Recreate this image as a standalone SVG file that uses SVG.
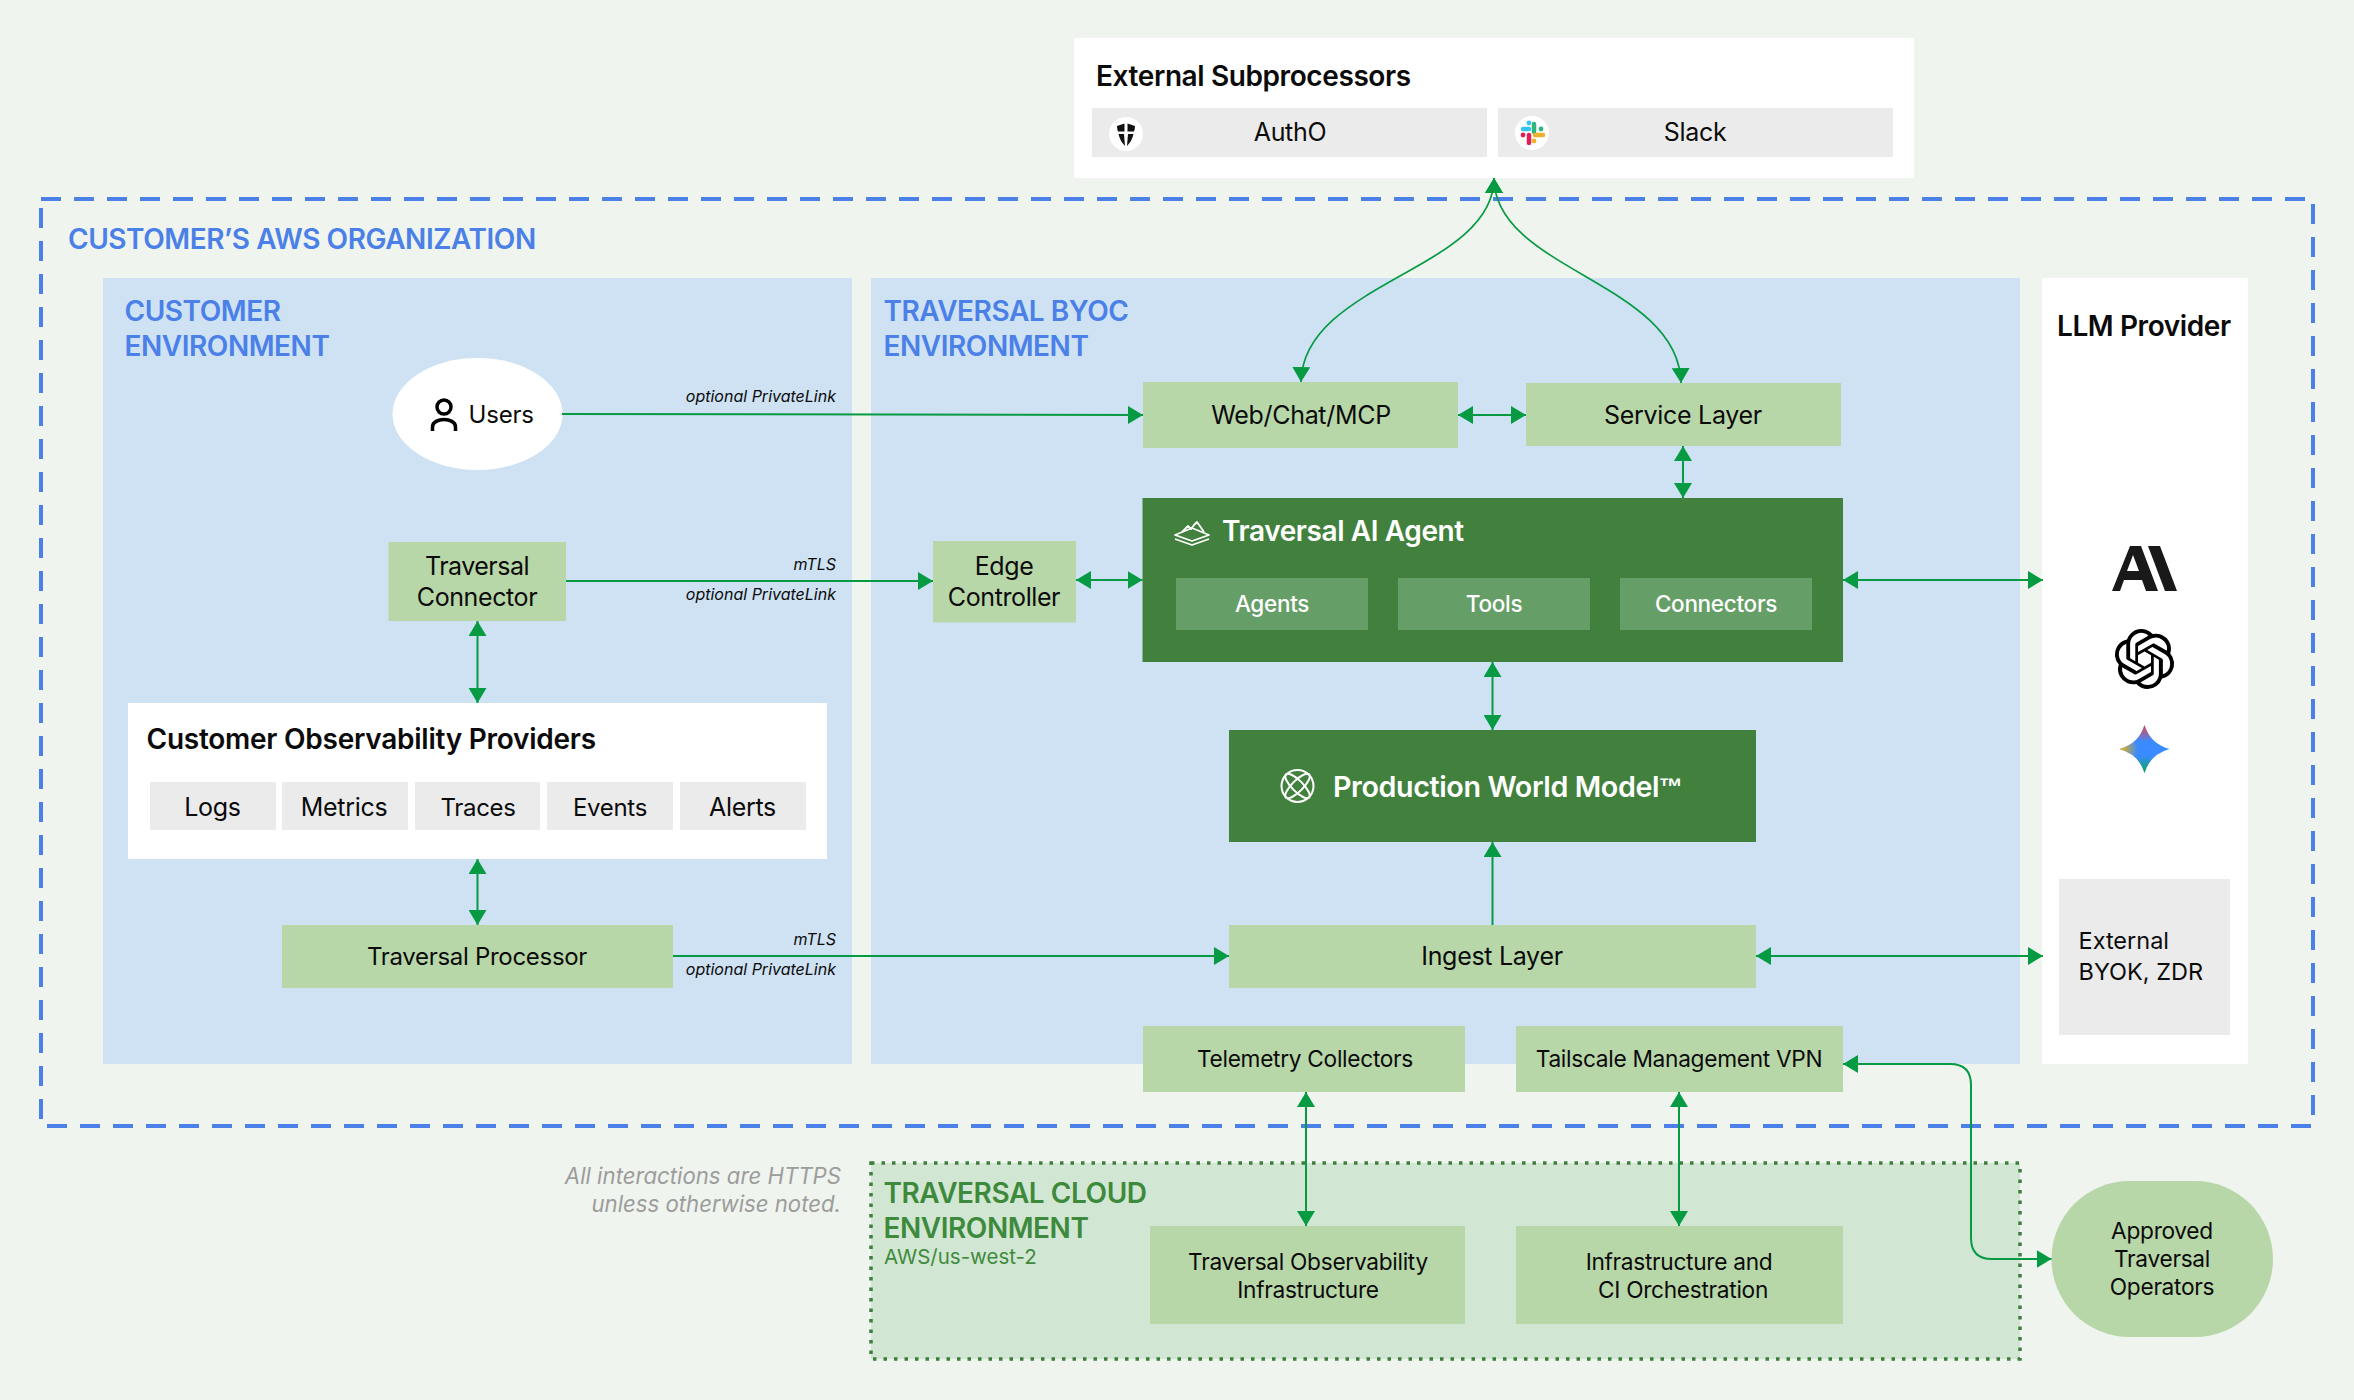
<svg xmlns="http://www.w3.org/2000/svg" width="2354" height="1400" viewBox="0 0 2354 1400">
<defs>
<marker id="ah" viewBox="0 0 15 18" refX="15" refY="9" markerWidth="15" markerHeight="18" markerUnits="userSpaceOnUse" orient="auto-start-reverse"><path d="M0 0L15 9L0 18Z" fill="#069a42"/></marker>
<radialGradient id="gr"><stop offset="0" stop-color="#f0404a"/><stop offset="1" stop-color="#f0404a" stop-opacity="0"/></radialGradient>
<radialGradient id="gy2"><stop offset="0" stop-color="#f4b400"/><stop offset="1" stop-color="#f4b400" stop-opacity="0"/></radialGradient>
<radialGradient id="gg"><stop offset="0" stop-color="#0aa85a"/><stop offset="1" stop-color="#0aa85a" stop-opacity="0"/></radialGradient>
<clipPath id="star"><path d="M2144.500 725Q2150 743.500 2169.500 749Q2150 754.500 2144.500 773Q2139 754.500 2119.500 749Q2139 743.500 2144.500 725Z"/></clipPath>
</defs>
<style>
text{font-family:Inter,"Liberation Sans",sans-serif;fill:#0b0b0b}
.lbl{font-size:24px;text-anchor:middle;letter-spacing:-.3px}
.big{font-size:25px}
.small{font-size:22.700px}
.h{font-size:28px;font-weight:600;letter-spacing:-.4px}
.reg{font-size:28px;font-weight:600;fill:#4a80e8;letter-spacing:-.45px}
.cl{fill:#3e8a3d}
.note{font-size:16px;font-style:italic;text-anchor:end}
.gray{font-size:22.200px;font-style:italic;text-anchor:end;fill:#9c9c9c}
.w{fill:#fff}
.lg{fill:#b8d7a8}.dk{fill:#41813d}.sub{fill:#659e66}.gy{fill:#ebebeb}
.c{fill:none;stroke:#069a42;stroke-width:2}
.one{marker-end:url(#ah)}
.two{marker-start:url(#ah);marker-end:url(#ah)}
.sl{font-size:22.500px;font-weight:500}
</style>
<rect id="background" width="2354" height="1400" fill="#eff4ee"/>
<g id="aws-org"><rect x="41" y="199" width="2272" height="927" fill="none" stroke="#4a80e8" stroke-width="4" stroke-dasharray="20 13"/>
<text class="reg" x="68" y="249">CUSTOMER’S AWS ORGANIZATION</text></g>
<g id="customer-env"><rect x="103" y="278" width="749" height="786" fill="#cee2f4"/>
<text class="reg" x="124.500" y="321">CUSTOMER</text><text class="reg" x="124.500" y="356">ENVIRONMENT</text></g>
<g id="byoc-env"><rect x="871" y="278" width="1149" height="786" fill="#cee2f4"/>
<text class="reg" x="883.500" y="321">TRAVERSAL BYOC</text><text class="reg" x="883.500" y="356">ENVIRONMENT</text></g>
<g id="llm-provider"><rect x="2042" y="278" width="206" height="786" fill="#fff"/>
<text class="h" x="2057" y="336">LLM Provider</text>
<path d="M2112 591L2130 546H2141L2158 591H2146L2142 580H2124L2120 591ZM2127 571H2139L2133 555Z" fill="#191919" fill-rule="evenodd"/>
<path d="M2148 546H2160L2177 591H2165Z" fill="#191919"/>
<path transform="translate(2114.500 629) scale(2.500)" fill="#000" d="M22.2819 9.8211a5.9847 5.9847 0 0 0-.5157-4.9108 6.0462 6.0462 0 0 0-6.5098-2.9A6.0651 6.0651 0 0 0 4.9807 4.1818a5.9847 5.9847 0 0 0-3.9977 2.9 6.0462 6.0462 0 0 0 .7427 7.0966 5.98 5.98 0 0 0 .511 4.9107 6.051 6.051 0 0 0 6.5146 2.9001A5.9847 5.9847 0 0 0 13.2599 24a6.0557 6.0557 0 0 0 5.7718-4.2058 5.9894 5.9894 0 0 0 3.9977-2.9001 6.0557 6.0557 0 0 0-.7475-7.0729zm-9.022 12.6081a4.4755 4.4755 0 0 1-2.8764-1.0408l.1419-.0804 4.7783-2.7582a.7948.7948 0 0 0 .3927-.6813v-6.7369l2.02 1.1686a.071.071 0 0 1 .038.052v5.5826a4.504 4.504 0 0 1-4.4945 4.4944zm-9.6607-4.1254a4.4708 4.4708 0 0 1-.5346-3.0137l.142.0852 4.783 2.7582a.7712.7712 0 0 0 .7806 0l5.8428-3.3685v2.3324a.0804.0804 0 0 1-.0332.0615L9.74 19.9502a4.4992 4.4992 0 0 1-6.1408-1.6464zM2.3408 7.8956a4.485 4.485 0 0 1 2.3655-1.9728V11.6a.7664.7664 0 0 0 .3879.6765l5.8144 3.3543-2.0201 1.1685a.0757.0757 0 0 1-.071 0l-4.8303-2.7865A4.504 4.504 0 0 1 2.3408 7.872zm16.5963 3.8558L13.1038 8.364 15.1192 7.2a.0757.0757 0 0 1 .071 0l4.8303 2.7913a4.4944 4.4944 0 0 1-.6765 8.1042v-5.6772a.79.79 0 0 0-.407-.667zm2.0107-3.0231l-.142-.0852-4.7735-2.7818a.7759.7759 0 0 0-.7854 0L9.409 9.2297V6.8974a.0662.0662 0 0 1 .0284-.0615l4.8303-2.7866a4.4992 4.4992 0 0 1 6.6802 4.66zM8.3065 12.863l-2.02-1.1638a.0804.0804 0 0 1-.038-.0567V6.0742a4.4992 4.4992 0 0 1 7.3757-3.4537l-.142.0805L8.704 5.459a.7948.7948 0 0 0-.3927.6813zm1.0976-2.3654l2.602-1.4998 2.6069 1.4998v2.9994l-2.5974 1.4997-2.6067-1.4997Z"/>
<g clip-path="url(#star)"><rect x="2115" y="720" width="60" height="60" fill="#3a8bff"/><circle cx="2144.500" cy="725" r="17" fill="url(#gr)"/><circle cx="2120" cy="749" r="18" fill="url(#gy2)"/><circle cx="2144.500" cy="773" r="18" fill="url(#gg)"/></g></g>
<g id="external-byok"><rect x="2059" y="879" width="171" height="156" class="gy"/>
<text font-size="23.500" x="2078.500" y="949">External</text><text font-size="23.500" x="2078.500" y="980">BYOK, ZDR</text></g>
<g id="cloud-env"><rect x="871" y="1163" width="1149" height="196" fill="#d2e7d3" stroke="#3f7f3c" stroke-width="3.500" stroke-dasharray="3.500 7"/>
<text class="reg cl" x="883.500" y="1203">TRAVERSAL CLOUD</text><text class="reg cl" x="883.500" y="1238">ENVIRONMENT</text>
<text class="cl" font-size="20.500" x="884" y="1264">AWS/us-west-2</text></g>
<g id="note"><text class="gray" x="841" y="1184">All interactions are HTTPS</text><text class="gray" x="841" y="1212">unless otherwise noted.</text></g>
<g id="subprocessors"><rect x="1074" y="38" width="840" height="140" class="w"/>
<text class="h" x="1096" y="86">External Subprocessors</text>
<rect x="1092" y="108" width="395" height="49" class="gy"/><rect x="1498" y="108" width="395" height="49" class="gy"/>
<text class="lbl big" x="1290" y="141">AuthO</text><text class="lbl big" x="1695" y="141">Slack</text>
<circle cx="1126" cy="134" r="17" class="w"/><path d="M1117 126L1124.500 123.500V131.500H1118Q1117 129 1117 126ZM1135 126L1127.500 123.500V131.500H1134Q1135 129 1135 126ZM1118.500 134H1124L1125 146Q1120 141 1118.500 134ZM1133.500 134H1128L1127 146Q1132 141 1133.500 134Z" fill="#111"/>
<circle cx="1532" cy="133" r="17" class="w"/>
<g stroke-width="4.500" stroke-linecap="round" fill="none"><path d="M1523 129h6" stroke="#36c5f0"/><path d="M1534 124v8" stroke="#2eb67d"/><path d="M1535 135h8" stroke="#ecb22e"/><path d="M1529 135v8" stroke="#e01e5a"/></g>
<g><circle cx="1529" cy="123" r="2.400" fill="#36c5f0"/><circle cx="1541" cy="129" r="2.400" fill="#2eb67d"/><circle cx="1534" cy="141" r="2.400" fill="#ecb22e"/><circle cx="1523" cy="135" r="2.400" fill="#e01e5a"/></g></g>
<g id="users"><ellipse cx="477.500" cy="414" rx="85" ry="56" class="w"/>
<circle cx="444" cy="407" r="7" fill="none" stroke="#000" stroke-width="3.500"/><path d="M432.500 431v-4c0-10 23-10 23 0v4" fill="none" stroke="#000" stroke-width="3.500"/>
<text font-size="24" x="468.500" y="423" letter-spacing="-.2">Users</text></g>
<g id="web-chat"><rect x="1143" y="382" width="315" height="66" class="lg"/><text class="lbl big" x="1301" y="424">Web/Chat/MCP</text></g>
<g id="service-layer"><rect x="1526" y="383" width="315" height="63" class="lg"/><text class="lbl big" x="1683" y="424">Service Layer</text></g>
<g id="connector"><rect x="388.500" y="542" width="177.500" height="79" class="lg"/><text class="lbl big" x="477" y="575" style="letter-spacing:-.5px">Traversal</text><text class="lbl big" x="477" y="606" style="letter-spacing:-.4px">Connector</text></g>
<g id="edge"><rect x="933" y="541" width="143" height="81.500" class="lg"/><text class="lbl big" x="1004" y="575" style="letter-spacing:-.4px">Edge</text><text class="lbl big" x="1004" y="606" style="letter-spacing:-.4px">Controller</text></g>
<g id="agent"><rect x="1142.500" y="498" width="700.500" height="164" class="dk"/>
<g fill="none" stroke="#fff" stroke-width="1.800" stroke-linejoin="round"><path d="M1175 535L1192 528L1209 535L1192 541Z"/><path d="M1175 539L1192 545L1209 539"/><path d="M1182 532L1188 526L1191 529L1194 525L1197 522L1204 532"/></g>
<text class="h w" x="1222" y="541">Traversal AI Agent</text>
<rect x="1176" y="578" width="192" height="52" class="sub"/><rect x="1398" y="578" width="192" height="52" class="sub"/><rect x="1620" y="578" width="192" height="52" class="sub"/>
<text class="lbl w sl" x="1272" y="612">Agents</text><text class="lbl w sl" x="1494" y="612">Tools</text><text class="lbl w sl" x="1716" y="612">Connectors</text></g>
<g id="world-model"><rect x="1229" y="730" width="527" height="112" class="dk"/>
<g fill="none" stroke="#fff" stroke-width="2"><ellipse cx="1297.500" cy="786" rx="16" ry="16"/><ellipse cx="1297.500" cy="786" rx="16.500" ry="5.500" transform="rotate(45 1297.500 786)"/><ellipse cx="1297.500" cy="786" rx="16.500" ry="5.500" transform="rotate(-45 1297.500 786)"/></g>
<text class="h w" x="1333" y="797" style="font-size:28.700px">Production World Model<tspan font-family="Liberation Sans" font-size="24" dy="-2" class="w">™</tspan></text></g>
<g id="obs"><rect x="128" y="703" width="699" height="156" class="w"/><text class="h" x="146.500" y="749" style="letter-spacing:-.25px">Customer Observability Providers</text>
<rect x="150" y="782" width="126" height="48" class="gy"/><rect x="282" y="782" width="126" height="48" class="gy"/><rect x="415" y="782" width="125" height="48" class="gy"/><rect x="547" y="782" width="126" height="48" class="gy"/><rect x="680" y="782" width="126" height="48" class="gy"/>
<text class="lbl big" x="212.500" y="816">Logs</text><text class="lbl big" x="344" y="816">Metrics</text><text class="lbl" x="478" y="816">Traces</text><text class="lbl" x="610" y="816">Events</text><text class="lbl big" x="742.500" y="816">Alerts</text></g>
<g id="processor"><rect x="282" y="925" width="391" height="63" class="lg"/><text class="lbl" x="477" y="965">Traversal Processor</text></g>
<g id="ingest"><rect x="1229" y="925" width="527" height="63" class="lg"/><text class="lbl big" x="1492" y="965">Ingest Layer</text></g>
<g id="telemetry"><rect x="1143" y="1026" width="322" height="66" class="lg"/><text class="lbl small" x="1305" y="1067">Telemetry Collectors</text></g>
<g id="tailscale"><rect x="1516" y="1026" width="327" height="66" class="lg"/><text class="lbl small" x="1679" y="1067">Tailscale Management VPN</text></g>
<g id="trav-obs"><rect x="1150" y="1226" width="315" height="98" class="lg"/><text class="lbl small" x="1308" y="1270">Traversal Observability</text><text class="lbl small" x="1308" y="1298">Infrastructure</text></g>
<g id="infra"><rect x="1516" y="1226" width="327" height="98" class="lg"/><text class="lbl small" x="1679" y="1270">Infrastructure and</text><text class="lbl small" x="1683" y="1298">CI Orchestration</text></g>
<g id="operators"><rect x="2051.500" y="1181" width="221.500" height="156" rx="78" class="lg"/><text class="lbl small" x="2162" y="1239">Approved</text><text class="lbl small" x="2162" y="1267">Traversal</text><text class="lbl small" x="2162" y="1295">Operators</text></g>
<g id="connectors">
<path class="c two" style="stroke-width:1.700" d="M1301 382C1303 282 1494 270 1494 178"/>
<path class="c two" style="stroke-width:1.700" d="M1681 383C1679 282 1494 270 1494 178"/>
<path class="c one" d="M562 414L1143 415"/>
<path class="c two" d="M1458 415H1526"/>
<path class="c two" d="M1683 446V498"/>
<path class="c one" d="M566 581H933"/>
<path class="c two" d="M1076 580H1142.500"/>
<path class="c two" d="M1843 580H2043"/>
<path class="c two" d="M1492.500 662V730"/>
<path class="c one" d="M1492.500 925V842"/>
<path class="c one" d="M673 956H1229"/>
<path class="c two" d="M1756 956H2043"/>
<path class="c two" d="M477.500 621V703"/>
<path class="c two" d="M477.500 859V925"/>
<path class="c two" d="M1306 1092V1226"/>
<path class="c two" d="M1679 1092V1226"/>
<path class="c two" d="M1843 1064H1950Q1971 1064 1971 1085V1238Q1971 1259 1992 1259H2051.500"/>
</g>
<g id="link-labels">
<text class="note" x="836" y="402">optional PrivateLink</text>
<text class="note" x="836" y="570">mTLS</text><text class="note" x="836" y="600">optional PrivateLink</text>
<text class="note" x="836" y="945">mTLS</text><text class="note" x="836" y="975">optional PrivateLink</text>
</g>
</svg>
